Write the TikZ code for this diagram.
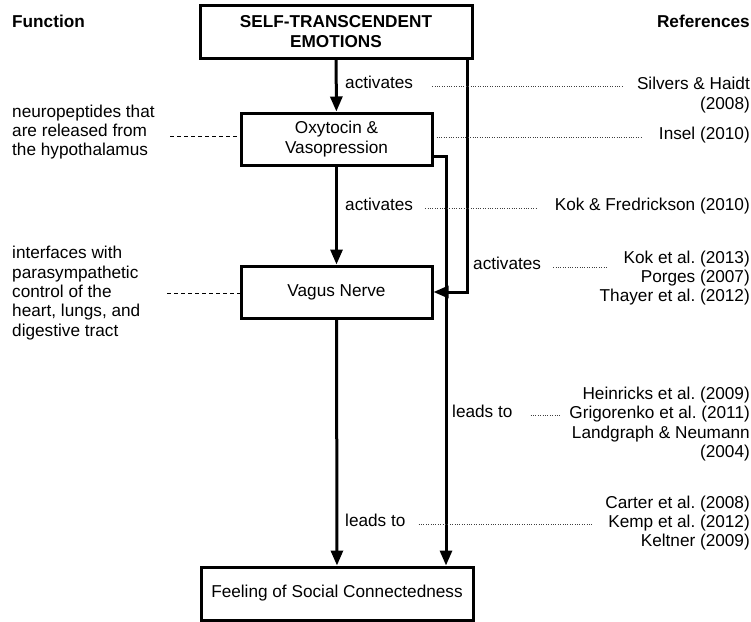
\documentclass[tikz,border=0pt]{standalone}
\usepackage{fontspec}
\setmainfont{Liberation Sans}
\usetikzlibrary{arrows.meta}
\begin{document}
\begin{tikzpicture}[x=1pt,y=-1pt,
  txt/.style={font=\fontsize{17.2}{19.4}\selectfont\frenchspacing, inner sep=0pt},
  box/.style={draw, line width=3pt, font=\fontsize{17.2}{19.6}\selectfont, align=center, inner sep=0pt},
  arr/.style={line width=3pt, -{Triangle[length=15pt,width=12pt]}},
  dotline/.style={line width=0.7pt, black!75, dash pattern=on 0.8pt off 1.6pt},
  dashline/.style={line width=0.9pt, dash pattern=on 4pt off 3pt},
  lab/.style={txt, anchor=mid west},
  refs/.style={txt, anchor=east, align=right},
  side/.style={txt, anchor=west, align=left}]
\useasboundingbox (0,0) rectangle (751,621);

% headers
\node[txt, anchor=mid west, font=\fontsize{17.2}{19.6}\selectfont\bfseries] (hfun) at (12,25) {Function};
\node[txt, anchor=mid east, font=\fontsize{17.2}{19.6}\selectfont\bfseries] (href) at (750,25) {References};

% boxes
\node[box, minimum width=272pt, minimum height=53pt, font=\fontsize{17.2}{19.6}\selectfont\bfseries] (top) at (336,31.5) {SELF-TRANSCENDENT\\EMOTIONS};
\node[box, minimum width=191pt, minimum height=52pt] (oxy) at (336.5,139) {Oxytocin \&\\Vasopression};
\node[box, minimum width=191pt, minimum height=52pt] (vag) at (336.5,292) {Vagus Nerve};
\node[box, minimum width=272pt, minimum height=53pt] (feel) at (337,593.5) {Feeling of Social Connectedness};

% helper coordinates
\coordinate (c1) at (467,293);
\coordinate (c2) at (446,156);

% connectors
\draw[arr] (top) -- (oxy);
\draw[arr] (oxy) -- (vag);
\draw[arr] (vag) -- (feel);
\draw[arr] (top.south -| c1) |- (vag.east);
\draw[arr] (oxy.east |- c2) -- (c2) -- (c2 |- feel.north);

% left functions
\node[side] (fn1) at (12,132) {neuropeptides that\\are released from\\the hypothalamus};
\node[side] (fn2) at (12,293) {interfaces with\\parasympathetic\\control of the\\heart, lungs, and\\digestive tract};
\coordinate (f1) at (170,136);
\coordinate (f2) at (167,293);
\draw[dashline] (f1) -- (f1 -| oxy.west);
\draw[dashline] (f2) -- (f2 -| vag.west);

% labels
\node[lab] (l1) at (345,86) {activates};
\node[lab] (l2) at (345,208) {activates};
\node[lab] (l3) at (473,267) {activates};
\node[lab] (l4) at (452,415) {leads to};
\node[lab] (l5) at (345,524) {leads to};

% references
\node[refs] (r1) at (750,95) {Silvers \& Haidt\\(2008)};
\node[txt, anchor=mid east] (r2) at (750,137) {Insel (2010)};
\node[txt, anchor=mid east] (r3) at (750,208) {Kok \& Fredrickson (2010)};
\node[refs] (r4) at (750,278) {Kok et al. (2013)\\Porges (2007)\\Thayer et al. (2012)};
\node[refs] (r5) at (750,424) {Heinricks et al. (2009)\\Grigorenko et al. (2011)\\Landgraph \& Neumann\\(2004)};
\node[refs] (r6) at (750,523) {Carter et al. (2008)\\Kemp et al. (2012)\\Keltner (2009)};

% dotted leaders
\coordinate (d1) at (622,86);
\coordinate (d2) at (642,137);
\coordinate (d3) at (537,208);
\coordinate (d4) at (608,267);
\coordinate (d5) at (560,415);
\coordinate (d6) at (592,524);
\draw[dotline, shorten <=19pt] (l1.mid east) -- (d1);
\draw[dotline, shorten <=3pt] (oxy.east |- d2) -- (d2);
\draw[dotline, shorten <=12pt] (l2.mid east) -- (d3);
\draw[dotline, shorten <=12pt] (l3.mid east) -- (d4);
\draw[dotline, shorten <=18pt] (l4.mid east) -- (d5);
\draw[dotline, shorten <=13pt] (l5.mid east) -- (d6);
\end{tikzpicture}
\end{document}
